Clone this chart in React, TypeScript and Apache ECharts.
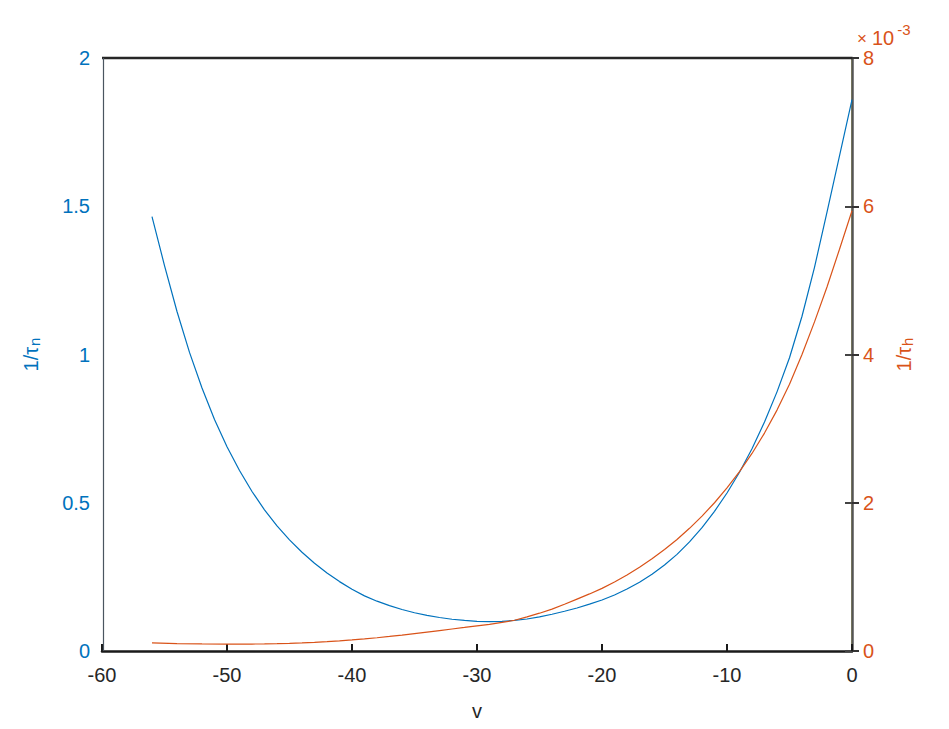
import React, { useEffect, useRef } from "react";
import * as echarts from "echarts";

// membrane potential v (mV), 1 mV steps from -56 to 0
const vN = [-56, -55, -54, -53, -52, -51, -50, -49, -48, -47, -46, -45, -44, -43, -42, -41, -40, -39, -38, -37, -36, -35, -34, -33, -32, -31, -30, -29, -28, -27, -26, -25, -24, -23, -22, -21, -20, -19, -18, -17, -16, -15, -14, -13, -12, -11, -10, -9, -8, -7, -6, -5, -4, -3, -2, -1, 0];
// 1/tau_n (left axis)
const invTauN = [1.465, 1.3, 1.145, 1.007, 0.887, 0.781, 0.689, 0.609, 0.538, 0.476, 0.422, 0.375, 0.333, 0.296, 0.263, 0.234, 0.208, 0.186, 0.168, 0.153, 0.14, 0.129, 0.12, 0.113, 0.107, 0.103, 0.1, 0.099, 0.1, 0.103, 0.108, 0.115, 0.124, 0.134, 0.145, 0.158, 0.172, 0.189, 0.209, 0.232, 0.259, 0.29, 0.326, 0.368, 0.416, 0.471, 0.533, 0.603, 0.682, 0.772, 0.874, 0.989, 1.129, 1.294, 1.48, 1.67, 1.86];

const vH = [-56, -54, -52, -50, -48, -47, -46, -45, -44, -43, -42, -41, -40, -39, -38, -37, -36, -35, -34, -33, -32, -31, -30, -29, -28, -27, -26, -25, -24, -23, -22, -21, -20, -19, -18, -17, -16, -15, -14, -13, -12, -11, -10, -9, -8, -7, -6, -5, -4, -3, -2, -1, 0];
// 1/tau_h (right axis, in units of 1e-3)
const invTauH = [0.11, 0.1, 0.095, 0.093, 0.094, 0.096, 0.099, 0.104, 0.11, 0.117, 0.126, 0.137, 0.149, 0.163, 0.179, 0.196, 0.214, 0.234, 0.255, 0.276, 0.297, 0.318, 0.34, 0.36, 0.385, 0.415, 0.46, 0.51, 0.565, 0.63, 0.7, 0.77, 0.845, 0.93, 1.025, 1.13, 1.245, 1.37, 1.505, 1.655, 1.82, 2.0, 2.2, 2.42, 2.665, 2.94, 3.25, 3.6, 4.0, 4.44, 4.91, 5.42, 5.94];

const xTicks = { min: -60, max: 0, interval: 10 };
const leftTicks = { min: 0, max: 2, interval: 0.5 };
const rightTicks = { min: 0, max: 8, interval: 2 };

const BLUE = "#0072BD";
const ORANGE = "#D95319";
const FONT = "'Liberation Sans', Arial, Helvetica, sans-serif";

const G = { left: 102, right: 97, top: 58, bottom: 78, w: 949, h: 729 };

export default function App() {
  const ref = useRef<HTMLDivElement>(null);
  useEffect(() => {
    if (!ref.current) return;
    const chart = echarts.init(ref.current, undefined, { renderer: "svg" });
    const xR = G.w - G.right;
    const yB = G.h - G.bottom;
    chart.setOption({
      animation: false,
      backgroundColor: "#ffffff",
      grid: {
        left: G.left,
        right: G.right,
        top: G.top,
        bottom: G.bottom,
        show: false,
      },
      graphic: [
        {
          type: "line",
          shape: { x1: G.left, y1: G.top, x2: xR, y2: G.top },
          style: { stroke: "#262626", lineWidth: 2.5 },
          z: 10,
        },
        {
          type: "line",
          shape: { x1: G.left + 1.5, y1: G.top, x2: G.left + 1.5, y2: yB },
          style: { stroke: "#4a5560", lineWidth: 1.2 },
          z: 10,
        },
        {
          type: "text",
          left: 857,
          top: 22,
          z: 10,
          style: {
            text: "{x|×}{b|10}{s|-3}",
            rich: {
              x: { fontSize: 17, fill: ORANGE, fontFamily: FONT, padding: [8, 5, 0, 0] },
              b: { fontSize: 20, fill: ORANGE, fontFamily: FONT, padding: [6, 2, 0, 0] },
              s: { fontSize: 15, fill: ORANGE, fontFamily: FONT, padding: [0, 0, 10, 1] },
            },
          },
        },
      ],
      xAxis: {
        type: "value",
        min: xTicks.min,
        max: xTicks.max,
        interval: xTicks.interval,
        name: "v",
        nameLocation: "middle",
        nameGap: 50,
        nameTextStyle: { fontSize: 20, color: "#262626", fontFamily: FONT },
        axisLine: { show: true, onZero: false, lineStyle: { color: "#1a1a1a", width: 2.5 } },
        axisTick: { show: true, inside: true, length: 7, lineStyle: { color: "#1a1a1a", width: 2 } },
        axisLabel: { fontSize: 20, color: "#262626", fontFamily: FONT, margin: 14 },
        splitLine: { show: false },
      },
      yAxis: [
        {
          type: "value",
          position: "left",
          min: leftTicks.min,
          max: leftTicks.max,
          interval: leftTicks.interval,
          name: "{a|1/τ}{s|n}",
          nameLocation: "middle",
          nameGap: 60,
          nameTextStyle: {
            rich: {
              a: { fontSize: 20, color: BLUE, fontFamily: FONT },
              s: { fontSize: 15, color: BLUE, fontFamily: FONT, padding: [8, 0, 0, 1] },
            },
          },
          axisLine: {
            show: true,
            lineStyle: { color: "#c2c84e", width: 1.5 },
          },
          axisTick: { show: true, inside: true, length: 7, lineStyle: { color: "#333333", width: 2 } },
          axisLabel: { fontSize: 20, color: BLUE, fontFamily: FONT, margin: 12 },
          splitLine: { show: false },
        },
        {
          type: "value",
          position: "right",
          min: rightTicks.min,
          max: rightTicks.max,
          interval: rightTicks.interval,
          name: "{a|1/τ}{s|h}",
          nameLocation: "middle",
          nameGap: 40,
          nameTextStyle: {
            rich: {
              a: { fontSize: 20, color: ORANGE, fontFamily: FONT },
              s: { fontSize: 15, color: ORANGE, fontFamily: FONT, padding: [8, 0, 0, 1] },
            },
          },
          axisLine: { show: true, lineStyle: { color: "#555555", width: 2.5 } },
          axisTick: { show: true, inside: true, length: 7, lineStyle: { color: "#444444", width: 2 } },
          axisLabel: { fontSize: 20, color: ORANGE, fontFamily: FONT, margin: 11 },
          splitLine: { show: false },
        },
      ],
      series: [
        {
          type: "line",
          yAxisIndex: 0,
          data: vN.map((v, i) => [v, invTauN[i]]),
          showSymbol: false,
          smooth: false,
          lineStyle: { color: BLUE, width: 1.2 },
          itemStyle: { color: BLUE },
        },
        {
          type: "line",
          yAxisIndex: 1,
          data: vH.map((v, i) => [v, invTauH[i]]),
          showSymbol: false,
          smooth: false,
          lineStyle: { color: ORANGE, width: 1.2 },
          itemStyle: { color: ORANGE },
        },
      ],
    });
    return () => chart.dispose();
  }, []);
  return (
    <div
      ref={ref}
      style={{ position: "absolute", left: 0, top: 0, width: 949, height: 729, background: "#fff" }}
    />
  );
}
